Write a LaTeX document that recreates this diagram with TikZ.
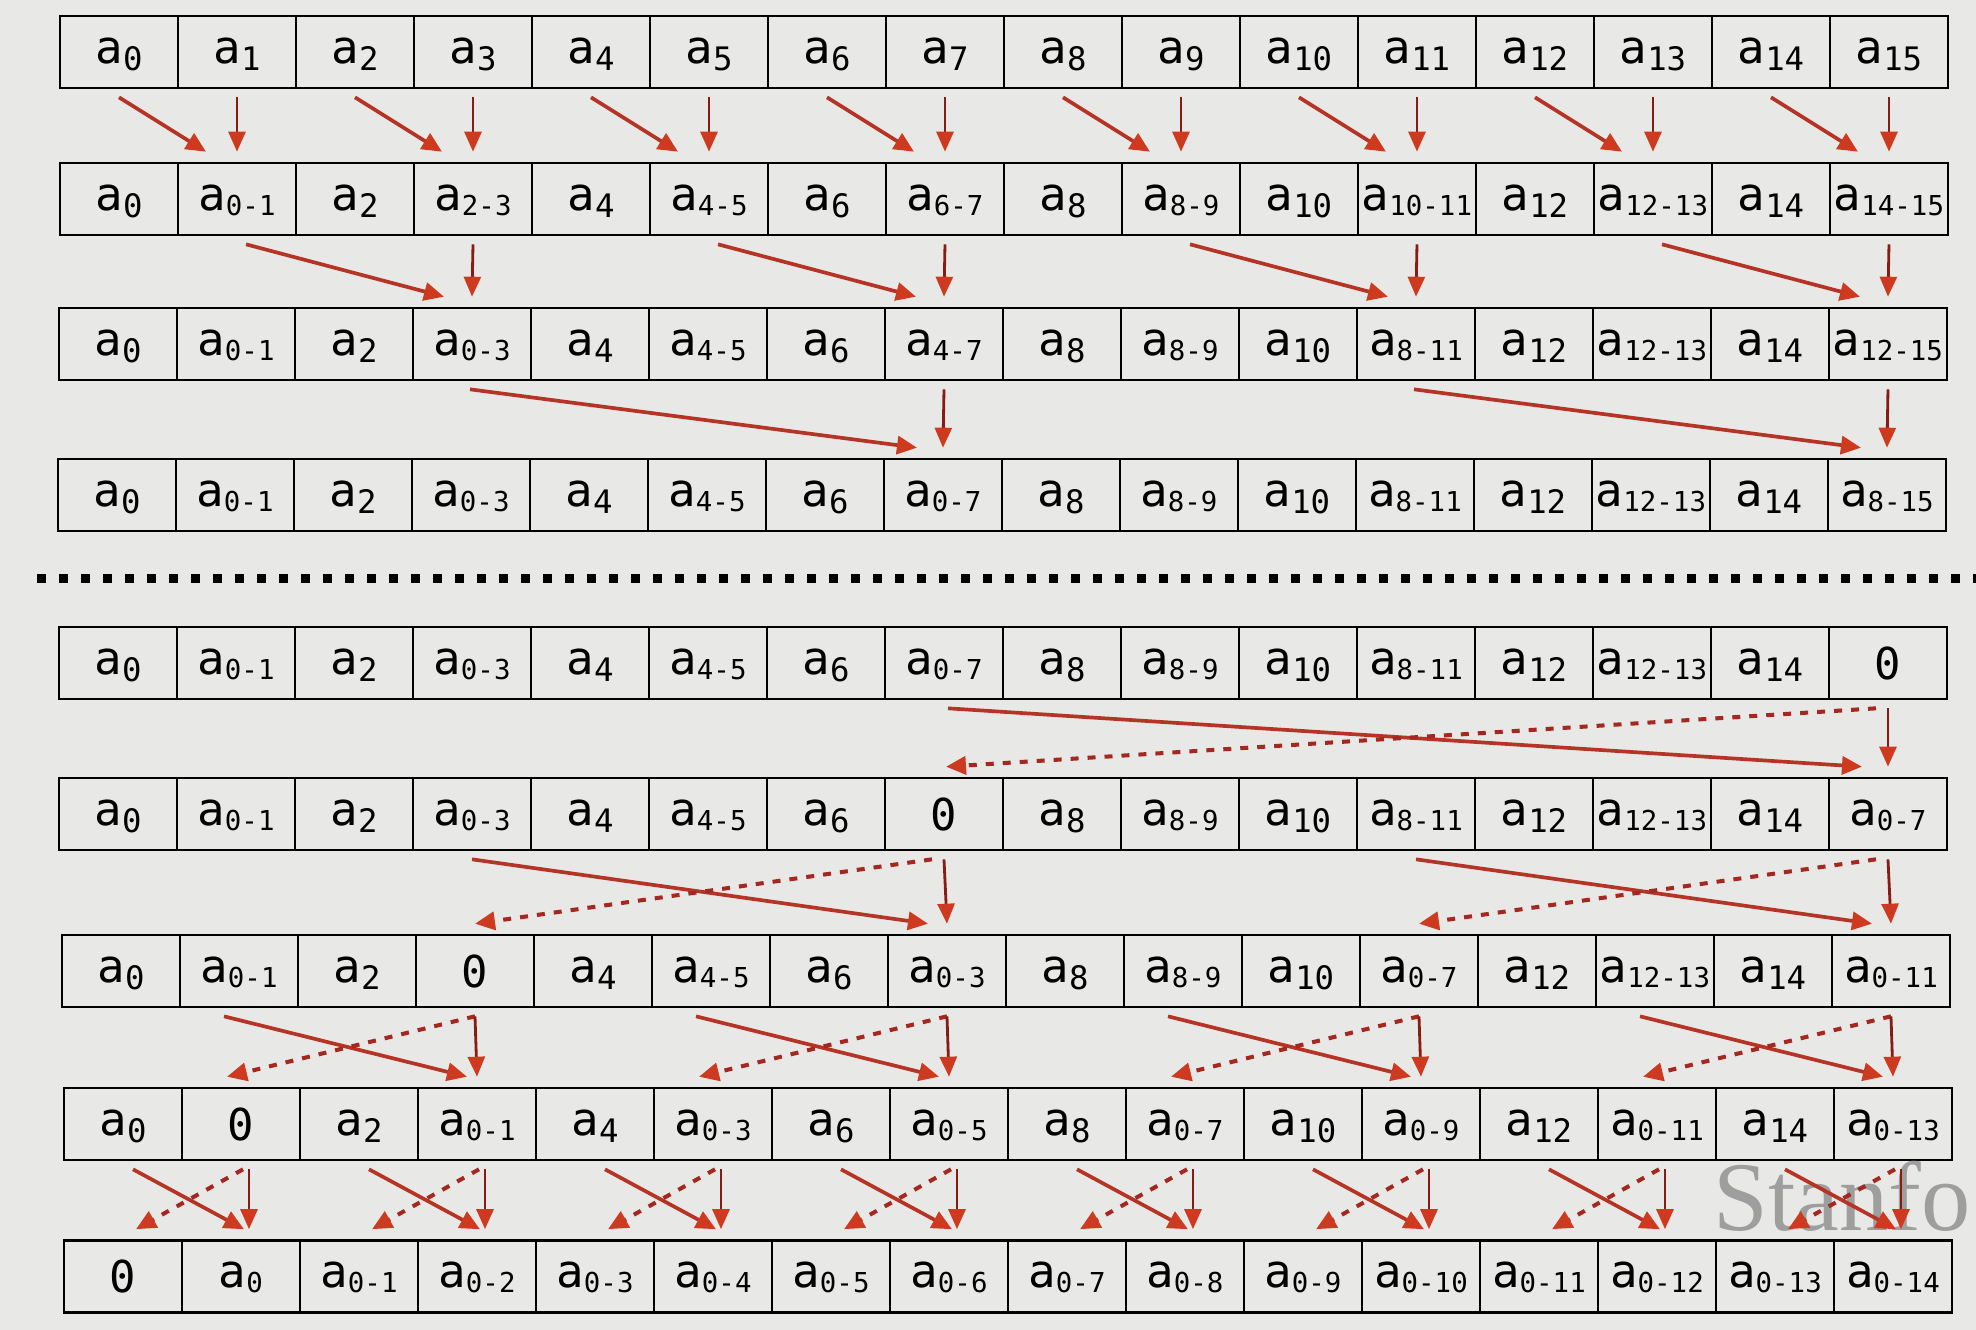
\documentclass[tikz,border=0pt]{standalone}
\usepackage{fontspec}
\setmainfont{DejaVu Sans Mono}
\newfontfamily\stampfont{Liberation Serif}
\usetikzlibrary{arrows.meta}

\definecolor{paper}{RGB}{232,233,230}
\definecolor{shaft}{RGB}{182,52,38}
\definecolor{stem}{RGB}{135,28,20}
\definecolor{tip}{RGB}{205,58,32}
\definecolor{dots}{RGB}{165,40,32}
\definecolor{stampgray}{RGB}{158,158,158}

\newcommand{\ael}[1]{{\fontsize{13}{13}\selectfont a}\raisebox{-0.07cm}{\fontsize{9.2}{9.2}\selectfont #1}}
\newcommand{\asum}[1]{{\fontsize{13}{13}\selectfont a}\raisebox{-0.05cm}{\fontsize{7.8}{7.8}\selectfont #1}}
\newcommand{\zer}{\raisebox{-0.05cm}{\fontsize{12.5}{12.5}\selectfont 0}}
\newcommand{\cellrow}[4]{%
	\foreach \t [count=\i from 0] in {#4}
		\node[cell] (#1-\i) at ({#2+0.59+1.18*\i}, #3) {\t};}

\tikzset{
	cell/.style={draw, line width=0.75pt, minimum width=1.18cm, minimum height=0.72cm,
		inner sep=0pt, text height=0.3cm, text depth=0.08cm},
	sweep/.style={draw=shaft, line width=1.05pt, -{Triangle[length=0.2cm, width=0.18cm, color=tip]}},
	drop/.style={draw=stem, line width=0.8pt, -{Triangle[length=0.2cm, width=0.17cm, color=tip]}},
	back/.style={draw=dots, line width=1.15pt, dash pattern=on 0.08cm off 0.09cm,
		-{Triangle[length=0.2cm, width=0.18cm, color=tip]}},
	stamp/.style={text=stampgray, font=\stampfont\fontsize{28}{28}\selectfont, inner sep=0pt}
}

\begin{document}
\begin{tikzpicture}
		%%Start of figure
			\fill[paper] (0, 0) rectangle (19.76, -13.30);
			\useasboundingbox (0, 0) rectangle (19.76, -13.30);
			
			%up-sweep rows%
			\cellrow{r1}{0.60}{-0.52}{\ael{0},\ael{1},\ael{2},\ael{3},\ael{4},\ael{5},\ael{6},\ael{7},\ael{8},\ael{9},\ael{10},\ael{11},\ael{12},\ael{13},\ael{14},\ael{15}}
			\cellrow{r2}{0.60}{-1.99}{\ael{0},\asum{0-1},\ael{2},\asum{2-3},\ael{4},\asum{4-5},\ael{6},\asum{6-7},\ael{8},\asum{8-9},\ael{10},\asum{10-11},\ael{12},\asum{12-13},\ael{14},\asum{14-15}}
			\cellrow{r3}{0.59}{-3.44}{\ael{0},\asum{0-1},\ael{2},\asum{0-3},\ael{4},\asum{4-5},\ael{6},\asum{4-7},\ael{8},\asum{8-9},\ael{10},\asum{8-11},\ael{12},\asum{12-13},\ael{14},\asum{12-15}}
			\cellrow{r4}{0.58}{-4.95}{\ael{0},\asum{0-1},\ael{2},\asum{0-3},\ael{4},\asum{4-5},\ael{6},\asum{0-7},\ael{8},\asum{8-9},\ael{10},\asum{8-11},\ael{12},\asum{12-13},\ael{14},\asum{8-15}}
			
			%separator%
			\coordinate (sepL) at (0.37, -5.78);
			\coordinate (sepR) at (19.76, -5.78);
			\draw[line width=0.09cm, dash pattern=on 0.09cm off 0.13cm] (sepL) -- (sepR);
			
			%down-sweep rows%
			\cellrow{r5}{0.59}{-6.63}{\ael{0},\asum{0-1},\ael{2},\asum{0-3},\ael{4},\asum{4-5},\ael{6},\asum{0-7},\ael{8},\asum{8-9},\ael{10},\asum{8-11},\ael{12},\asum{12-13},\ael{14},\zer}
			\cellrow{r6}{0.59}{-8.14}{\ael{0},\asum{0-1},\ael{2},\asum{0-3},\ael{4},\asum{4-5},\ael{6},\zer,\ael{8},\asum{8-9},\ael{10},\asum{8-11},\ael{12},\asum{12-13},\ael{14},\asum{0-7}}
			\cellrow{r7}{0.62}{-9.71}{\ael{0},\asum{0-1},\ael{2},\zer,\ael{4},\asum{4-5},\ael{6},\asum{0-3},\ael{8},\asum{8-9},\ael{10},\asum{0-7},\ael{12},\asum{12-13},\ael{14},\asum{0-11}}
			\cellrow{r8}{0.64}{-11.24}{\ael{0},\zer,\ael{2},\asum{0-1},\ael{4},\asum{0-3},\ael{6},\asum{0-5},\ael{8},\asum{0-7},\ael{10},\asum{0-9},\ael{12},\asum{0-11},\ael{14},\asum{0-13}}
			\cellrow{r9}{0.64}{-12.765}{\zer,\asum{0},\asum{0-1},\asum{0-2},\asum{0-3},\asum{0-4},\asum{0-5},\asum{0-6},\asum{0-7},\asum{0-8},\asum{0-9},\asum{0-10},\asum{0-11},\asum{0-12},\asum{0-13},\asum{0-14}}
			
			\node[stamp, anchor=base west] (logo) at (17.13, -12.30) {Stanfo};
			
			%arrows, up%
			\foreach \s/\d in {0/1,2/3,4/5,6/7,8/9,10/11,12/13,14/15}{
				\draw[sweep] ([yshift=-0.08cm]r1-\s.south) -- ([xshift=-0.31cm, yshift=0.1cm]r2-\d.north);
				\draw[drop] ([yshift=-0.08cm]r1-\d.south) -- ([yshift=0.1cm]r2-\d.north);
			}
			\foreach \s/\d in {1/3,5/7,9/11,13/15}{
				\draw[sweep] ([xshift=0.09cm, yshift=-0.08cm]r2-\s.south) -- ([xshift=-0.28cm, yshift=0.1cm]r3-\d.north);
				\draw[drop] ([yshift=-0.08cm]r2-\d.south) -- ([yshift=0.1cm]r3-\d.north);
			}
			\foreach \s/\d in {3/7,11/15}{
				\draw[sweep] ([xshift=-0.02cm, yshift=-0.08cm]r3-\s.south) -- ([xshift=-0.26cm, yshift=0.1cm]r4-\d.north);
				\draw[drop] ([yshift=-0.08cm]r3-\d.south) -- ([yshift=0.1cm]r4-\d.north);
			}
			
			%arrows, down%
			\draw[sweep] ([xshift=0.04cm, yshift=-0.08cm]r5-7.south) -- ([xshift=-0.26cm, yshift=0.1cm]r6-15.north);
			\draw[back] ([xshift=-0.12cm, yshift=-0.08cm]r5-15.south) -- ([xshift=0.02cm, yshift=0.1cm]r6-7.north);
			\draw[drop] ([yshift=-0.08cm]r5-15.south) -- ([yshift=0.1cm]r6-15.north);
			\foreach \s/\d in {3/7,11/15}{
				\draw[sweep] ([yshift=-0.08cm]r6-\s.south) -- ([xshift=-0.19cm, yshift=0.1cm]r7-\d.north);
				\draw[back] ([xshift=-0.12cm, yshift=-0.08cm]r6-\d.south) -- ([yshift=0.1cm]r7-\s.north);
				\draw[drop] ([yshift=-0.08cm]r6-\d.south) -- ([yshift=0.1cm]r7-\d.north);
			}
			\foreach \s/\d in {1/3,5/7,9/11,13/15}{
				\draw[sweep] ([xshift=-0.15cm, yshift=-0.08cm]r7-\s.south) -- ([xshift=-0.1cm, yshift=0.1cm]r8-\d.north);
				\draw[back] ([yshift=-0.08cm]r7-\d.south) -- ([xshift=-0.14cm, yshift=0.1cm]r8-\s.north);
				\draw[drop] ([yshift=-0.08cm]r7-\d.south) -- ([yshift=0.1cm]r8-\d.north);
			}
			\foreach \s/\d in {0/1,2/3,4/5,6/7,8/9,10/11,12/13,14/15}{
				\draw[sweep] ([xshift=0.1cm, yshift=-0.08cm]r8-\s.south) -- ([xshift=0.03cm, yshift=0.1cm]r9-\d.north);
				\draw[back] ([xshift=0.02cm, yshift=-0.08cm]r8-\d.south) -- ([xshift=0.13cm, yshift=0.1cm]r9-\s.north);
				\draw[drop] ([xshift=0.08cm, yshift=-0.08cm]r8-\d.south) -- ([xshift=0.08cm, yshift=0.1cm]r9-\d.north);
			}
		\end{tikzpicture}
\end{document}
